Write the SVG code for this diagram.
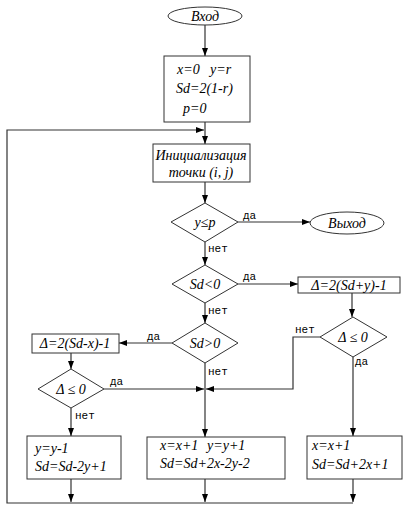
<svg xmlns="http://www.w3.org/2000/svg" width="410" height="513" viewBox="0 0 410 513">
<defs>
<marker id="ah" markerWidth="8" markerHeight="6" refX="8" refY="3" orient="auto" markerUnits="userSpaceOnUse">
<path d="M0,0 L8,3 L0,6 Z" fill="#000"/>
</marker>
<style>
.s{fill:#fff;stroke:#333;stroke-width:1}
.t{font-family:'Liberation Serif','DejaVu Serif',serif;font-style:italic;font-size:14px;fill:#000}
.l{font-family:'Liberation Mono','DejaVu Sans Mono',monospace;font-size:11px;fill:#000}
.c{fill:none;stroke:#333;stroke-width:1.2}
</style>
</defs>
<rect width="410" height="513" fill="#fff"/>
<g id="connectors">
<path class="c" d="M205,25 V56" marker-end="url(#ah)"/>
<path class="c" d="M205,122 V144" marker-end="url(#ah)"/>
<path class="c" d="M205,182 V203" marker-end="url(#ah)"/>
<path class="c" d="M238,222 H310" marker-end="url(#ah)"/>
<path class="c" d="M205,242 V265" marker-end="url(#ah)"/>
<path class="c" d="M238,284 H298" marker-end="url(#ah)"/>
<path class="c" d="M205,303 V323" marker-end="url(#ah)"/>
<path class="c" d="M352,293 V317" marker-end="url(#ah)"/>
<path class="c" d="M320,337 H293 V389 H206" marker-end="url(#ah)"/>
<path class="c" d="M353,357 V436" marker-end="url(#ah)"/>
<path class="c" d="M172,343 H119" marker-end="url(#ah)"/>
<path class="c" d="M205,363 V437" marker-end="url(#ah)"/>
<path class="c" d="M71,353 V369" marker-end="url(#ah)"/>
<path class="c" d="M104,389 H204" marker-end="url(#ah)"/>
<path class="c" d="M71,408 V436" marker-end="url(#ah)"/>
<path class="c" d="M71,479 V502" marker-end="url(#ah)"/>
<path class="c" d="M205,479 V502" marker-end="url(#ah)"/>
<path class="c" d="M353,479 V502" marker-end="url(#ah)"/>
<path class="c" d="M353,503 H7 V130 H204" marker-end="url(#ah)"/>
<text class="l" x="243" y="219">да</text>
<text class="l" x="208" y="252">нет</text>
<text class="l" x="243" y="280">да</text>
<text class="l" x="208" y="314">нет</text>
<text class="l" x="147" y="340">да</text>
<text class="l" x="208" y="375">нет</text>
<text class="l" x="295" y="333">нет</text>
<text class="l" x="355" y="365">да</text>
<text class="l" x="110" y="385">да</text>
<text class="l" x="75" y="419">нет</text>
</g>
<g id="start">
<ellipse class="s" cx="205" cy="16" rx="37" ry="9"/>
<text class="t" x="205" y="21" text-anchor="middle">Вход</text>
</g>
<g id="init">
<rect class="s" x="164" y="56" width="86" height="66"/>
<text class="t" x="177" y="74">x=0</text>
<text class="t" x="210" y="74">y=r</text>
<text class="t" x="176" y="93">Sd=2(1-r)</text>
<text class="t" x="183" y="113">p=0</text>
</g>
<g id="point">
<rect class="s" x="153" y="144" width="97" height="38"/>
<text class="t" x="201" y="160" text-anchor="middle">Инициализация</text>
<text class="t" x="201" y="177" text-anchor="middle">точки (i, j)</text>
</g>
<g id="d1">
<path class="s" d="M205,203 L238,222 L205,242 L171,222 Z"/>
<text class="t" x="205" y="227" text-anchor="middle">y≤p</text>
</g>
<g id="exit">
<ellipse class="s" cx="347" cy="223" rx="37" ry="11"/>
<text class="t" x="347" y="228" text-anchor="middle">Выход</text>
</g>
<g id="d2">
<path class="s" d="M205,265 L238,284 L205,303 L172,284 Z"/>
<text class="t" x="205" y="289" text-anchor="middle">Sd&lt;0</text>
</g>
<g id="bR">
<rect class="s" x="298" y="277" width="102" height="16"/>
<text class="t" x="349" y="290" text-anchor="middle">Δ=2(Sd+y)-1</text>
</g>
<g id="dR">
<path class="s" d="M353,317 L387,337 L353,357 L320,337 Z"/>
<text class="t" x="353" y="342" text-anchor="middle">Δ ≤ 0</text>
</g>
<g id="d3">
<path class="s" d="M205,323 L238,343 L205,363 L172,343 Z"/>
<text class="t" x="205" y="348" text-anchor="middle">Sd&gt;0</text>
</g>
<g id="bL">
<rect class="s" x="32" y="334" width="87" height="19"/>
<text class="t" x="75" y="348" text-anchor="middle">Δ=2(Sd-x)-1</text>
</g>
<g id="dL">
<path class="s" d="M71,369 L104,389 L71,408 L38,389 Z"/>
<text class="t" x="71" y="394" text-anchor="middle">Δ ≤ 0</text>
</g>
<g id="box1">
<rect class="s" x="27" y="436" width="94" height="43"/>
<text class="t" x="35" y="453">y=y-1</text>
<text class="t" x="35" y="471">Sd=Sd-2y+1</text>
</g>
<g id="box2">
<rect class="s" x="147" y="437" width="138" height="42"/>
<text class="t" x="160" y="450">x=x+1</text>
<text class="t" x="207" y="450">y=y+1</text>
<text class="t" x="160" y="468">Sd=Sd+2x-2y-2</text>
</g>
<g id="box3">
<rect class="s" x="307" y="436" width="95" height="43"/>
<text class="t" x="312" y="450">x=x+1</text>
<text class="t" x="312" y="469">Sd=Sd+2x+1</text>
</g>
</svg>
